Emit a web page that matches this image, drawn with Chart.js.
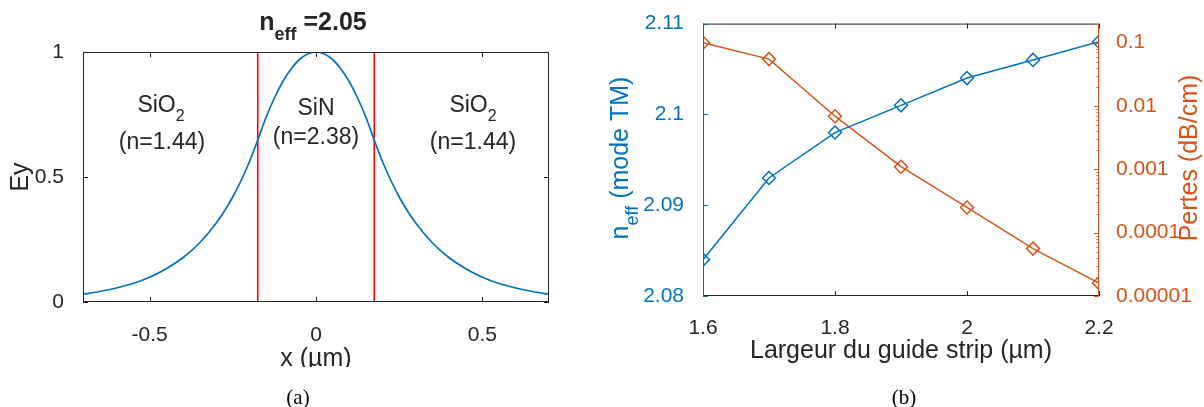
<!DOCTYPE html>
<html>
<head>
<meta charset="utf-8">
<script src="https://cdn.jsdelivr.net/npm/chart.js@4.4.0/dist/chart.umd.min.js"></script>
<style>
  body { margin:0; background:#fff; width:1204px; height:407px; overflow:hidden; position:relative; }
  canvas { position:absolute; top:0; }
  #c1 { left:0; }
  #c2 { left:600px; }
  .cap { position:absolute; font-family:"Liberation Serif","DejaVu Serif",serif; font-size:21px; line-height:1; color:#000; transform:translateX(-50%); }
</style>
</head>
<body>
<canvas id="c1" width="600" height="407"></canvas>
<canvas id="c2" width="604" height="407"></canvas>
<div class="cap" style="left:298px;top:387px">(a)</div>
<div class="cap" style="left:904px;top:387px">(b)</div>
<script>
// (a) profil du mode, Ey le long de x
const xPos = [-0.7,-0.65,-0.6,-0.55,-0.5,-0.45,-0.4,-0.35,-0.3,-0.275,-0.25,-0.225,-0.2,-0.175,-0.15,-0.125,-0.1,-0.075,-0.05,-0.025,0,
              0.025,0.05,0.075,0.1,0.125,0.15,0.175,0.2,0.225,0.25,0.275,0.3,0.35,0.4,0.45,0.5,0.55,0.6,0.65,0.7];
const ey = [0.031,0.042,0.056,0.074,0.099,0.133,0.177,0.236,0.315,0.364,0.420,0.486,0.561,0.648,0.739,0.816,0.881,0.932,0.970,0.992,1,
            0.992,0.970,0.932,0.881,0.816,0.739,0.648,0.561,0.486,0.420,0.364,0.315,0.236,0.177,0.133,0.099,0.074,0.056,0.042,0.031];
const interfaceX = [-0.175, 0.175];
const xTicksA = [-0.5, 0, 0.5];
const xTickLabelsA = ['-0.5', '0', '0.5'];
const yTicksA = [0, 0.5, 1];
const yTickLabelsA = ['0', '0.5', '1'];

// (b) neff et pertes vs largeur
const widths = [1.6, 1.7, 1.8, 1.9, 2.0, 2.1, 2.2];
const neff = [2.084, 2.093, 2.098, 2.101, 2.104, 2.106, 2.108];
const pertes = [0.1, 0.055, 0.0069, 0.0011, 0.00025, 0.000056, 0.000016];
const widthTicks = [1.6, 1.8, 2, 2.2];
const widthTickLabels = ['1.6', '1.8', '2', '2.2'];
const neffTicks = [2.08, 2.09, 2.1, 2.11];
const neffTickLabels = ['2.08', '2.09', '2.1', '2.11'];
const pertesTicks = [0.00001, 0.0001, 0.001, 0.01, 0.1];
const pertesTickLabels = ['0.00001', '0.0001', '0.001', '0.01', '0.1'];

const BLUE = '#0072BD', ORANGE = '#D95319', AX = '#262626';
const FAM = '"Liberation Sans", Arial, sans-serif';
const font = { family: FAM, size: 21 };
const titleFont = { family: FAM, size: 25 };

function rich(ctx, parts, x, y, color) {
  // parts: [texte, taille, graisse, decalage vertical]
  ctx.save();
  ctx.fillStyle = color || AX;
  ctx.textBaseline = 'alphabetic';
  let w = 0;
  parts.forEach(p => { ctx.font = (p[2] || 'normal') + ' ' + p[1] + 'px ' + FAM; w += ctx.measureText(p[0]).width; });
  let cx = x - w / 2;
  parts.forEach(p => {
    ctx.font = (p[2] || 'normal') + ' ' + p[1] + 'px ' + FAM;
    ctx.fillText(p[0], cx, y + (p[3] || 0));
    cx += ctx.measureText(p[0]).width;
  });
  ctx.restore();
}

function richRot(ctx, parts, x, y, color) {
  ctx.save();
  ctx.translate(x, y);
  ctx.rotate(-Math.PI / 2);
  rich(ctx, parts, 0, 0, color);
  ctx.restore();
}

function seg(ctx, x1, y1, x2, y2) {
  ctx.beginPath(); ctx.moveTo(x1, y1); ctx.lineTo(x2, y2); ctx.stroke();
}

const fixTicks = vals => s => { s.ticks = vals.map(v => ({ value: v })); };

// cadre et graduations vers l'interieur, facon matlab
const frameA = {
  id: 'frameA',
  afterDatasetsDraw(chart) {
    const { ctx, chartArea: a, scales } = chart;
    ctx.save();
    ctx.strokeStyle = AX;
    ctx.lineWidth = 1;
    ctx.strokeRect(a.left + 0.5, a.top + 0.5, a.right - a.left - 1, a.bottom - a.top - 1);
    scales.x.ticks.forEach(t => {
      const p = Math.round(scales.x.getPixelForValue(t.value)) + 0.5;
      seg(ctx, p, a.bottom, p, a.bottom - 5);
      seg(ctx, p, a.top, p, a.top + 5);
    });
    scales.y.ticks.forEach(t => {
      const p = Math.round(scales.y.getPixelForValue(t.value)) + 0.5;
      seg(ctx, a.left, p, a.left + 5, p);
      seg(ctx, a.right, p, a.right - 5, p);
    });
    ctx.restore();
  },
  afterDraw(chart) {
    const ctx = chart.ctx;
    rich(ctx, [['n', 25, 'bold'], ['eff', 18, 'bold', 10], [' =2.05', 25, 'bold']], 313, 30);
    rich(ctx, [['SiO', 23], ['2', 16, 'normal', 9]], 161, 112);
    rich(ctx, [['(n=1.44)', 23]], 162, 149);
    rich(ctx, [['SiN', 23]], 316, 115);
    rich(ctx, [['(n=2.38)', 23]], 316, 144);
    rich(ctx, [['SiO', 23], ['2', 16, 'normal', 9]], 473, 112);
    rich(ctx, [['(n=1.44)', 23]], 473, 149);
    // le bas du titre x est coupe sur l'original
    ctx.fillStyle = '#fff';
    ctx.fillRect(240, 367, 160, 16);
  }
};

new Chart(document.getElementById('c1'), {
  type: 'line',
  data: {
    datasets: [
      { data: xPos.map((x, i) => ({ x: x, y: ey[i] })), borderColor: BLUE, borderWidth: 1.7,
        pointRadius: 0, cubicInterpolationMode: 'monotone' }
    ].concat(interfaceX.map(x => ({
      data: [{ x: x, y: 0 }, { x: x, y: 1 }], borderColor: '#FF0000', borderWidth: 1.6, pointRadius: 0
    })))
  },
  options: {
    responsive: false,
    animation: false,
    layout: { padding: { top: 52, right: 51, left: 0, bottom: 0 } },
    plugins: { legend: { display: false }, tooltip: { enabled: false } },
    scales: {
      x: {
        type: 'linear', min: -0.7, max: 0.7,
        afterBuildTicks: fixTicks(xTicksA),
        afterFit: s => { s.height = 105; },
        grid: { display: false }, border: { display: false },
        ticks: { color: AX, font: font, padding: 13, maxRotation: 0, autoSkip: false,
                 callback: (v, i) => xTickLabelsA[i] },
        title: { display: true, text: 'x (µm)', color: AX, font: titleFont, padding: { top: 0, bottom: 33 } }
      },
      y: {
        min: 0, max: 1,
        afterBuildTicks: fixTicks(yTicksA),
        afterFit: s => { s.width = 83; },
        grid: { display: false }, border: { display: false },
        ticks: { color: AX, font: font, padding: 11, callback: (v, i) => yTickLabelsA[i] },
        title: { display: true, text: 'Ey', color: AX, font: titleFont, padding: { top: 6, bottom: 0 } }
      }
    }
  },
  plugins: [frameA]
});

// graduations log : decades + intermediaires
const logMarks = [];
for (let e = -5; e <= -1; e++) {
  for (let m = 1; m <= 9; m++) {
    const v = m * Math.pow(10, e);
    if (v <= 0.2 + 1e-12) logMarks.push(v);
  }
}
logMarks.push(0.2);

function isMajor(v) {
  return pertesTicks.findIndex(t => Math.abs(Math.log10(t) - Math.log10(v)) < 1e-6);
}

const frameB = {
  id: 'frameB',
  afterDatasetsDraw(chart) {
    const { ctx, chartArea: a, scales } = chart;
    ctx.save();
    ctx.lineWidth = 1;
    ctx.strokeStyle = AX;
    seg(ctx, a.left, a.top + 0.5, a.right, a.top + 0.5);
    seg(ctx, a.left, a.bottom - 0.5, a.right, a.bottom - 0.5);
    scales.x.ticks.forEach(t => {
      const p = Math.round(scales.x.getPixelForValue(t.value)) + 0.5;
      seg(ctx, p, a.bottom, p, a.bottom - 5);
      seg(ctx, p, a.top, p, a.top + 5);
    });
    ctx.strokeStyle = BLUE;
    seg(ctx, a.left + 0.5, a.top, a.left + 0.5, a.bottom);
    scales.y.ticks.forEach(t => {
      const p = Math.round(scales.y.getPixelForValue(t.value)) + 0.5;
      seg(ctx, a.left, p, a.left + 5, p);
    });
    ctx.strokeStyle = ORANGE;
    seg(ctx, a.right - 0.5, a.top, a.right - 0.5, a.bottom);
    scales.y2.ticks.forEach(t => {
      const p = Math.round(scales.y2.getPixelForValue(t.value)) + 0.5;
      const len = isMajor(t.value) >= 0 ? 5 : 2.5;
      seg(ctx, a.right, p, a.right - len, p);
    });
    ctx.restore();
  },
  afterDraw(chart) {
    const ctx = chart.ctx;
    richRot(ctx, [['n', 25], ['eff', 18, 'normal', 10], [' (mode TM)', 25]], 28, 158, BLUE);
    richRot(ctx, [['Pertes (dB/cm)', 25]], 597, 158, ORANGE);
  }
};

new Chart(document.getElementById('c2'), {
  type: 'line',
  data: {
    datasets: [
      { data: widths.map((x, i) => ({ x: x, y: neff[i] })), yAxisID: 'y', borderColor: BLUE, borderWidth: 1.5,
        pointStyle: 'rectRot', pointRadius: 6.5, pointBorderWidth: 1.5, pointBorderColor: BLUE,
        pointBackgroundColor: 'rgba(0,0,0,0)' },
      { data: widths.map((x, i) => ({ x: x, y: pertes[i] })), yAxisID: 'y2', borderColor: ORANGE, borderWidth: 1.5,
        pointStyle: 'rectRot', pointRadius: 6.5, pointBorderWidth: 1.5, pointBorderColor: ORANGE,
        pointBackgroundColor: 'rgba(0,0,0,0)' }
    ]
  },
  options: {
    responsive: false,
    animation: false,
    layout: { padding: { top: 21, right: 0, left: 0, bottom: 0 } },
    plugins: { legend: { display: false }, tooltip: { enabled: false } },
    scales: {
      x: {
        type: 'linear', min: 1.6, max: 2.2,
        afterBuildTicks: fixTicks(widthTicks),
        afterFit: s => { s.height = 111; },
        grid: { display: false }, border: { display: false },
        ticks: { color: AX, font: font, padding: 12, maxRotation: 0, autoSkip: false,
                 callback: (v, i) => widthTickLabels[i] },
        title: { display: true, text: 'Largeur du guide strip (µm)', color: AX, font: titleFont, padding: { top: 0, bottom: 41 } }
      },
      y: {
        position: 'left', min: 2.08, max: 2.11,
        afterBuildTicks: fixTicks(neffTicks),
        afterFit: s => { s.width = 103; },
        grid: { display: false }, border: { display: false },
        ticks: { color: BLUE, font: font, padding: 11, autoSkip: false,
                 callback: (v, i) => neffTickLabels[i] }
      },
      y2: {
        type: 'logarithmic', position: 'right', min: 0.00001, max: 0.2,
        afterBuildTicks: fixTicks(logMarks),
        afterFit: s => { s.width = 105; },
        grid: { display: false }, border: { display: false },
        ticks: { color: ORANGE, font: font, padding: 9, autoSkip: false,
                 callback: v => { const k = isMajor(v); return k >= 0 ? pertesTickLabels[k] : ''; } }
      }
    }
  },
  plugins: [frameB]
});
</script>
</body>
</html>
